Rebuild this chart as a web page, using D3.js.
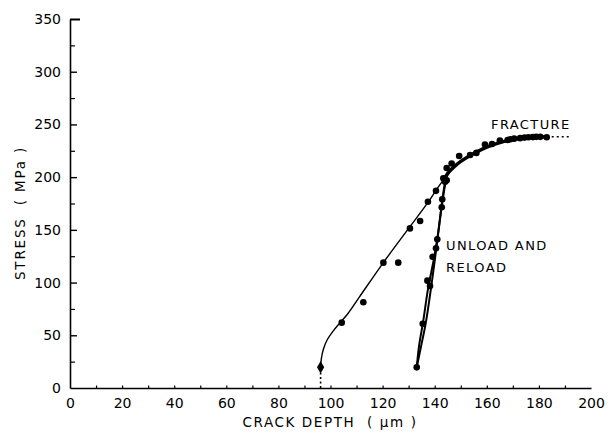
<!DOCTYPE html>
<html><head><meta charset="utf-8">
<script src="https://cdn.jsdelivr.net/npm/d3@7/dist/d3.min.js"></script>
<style>body{margin:0;background:#fff}svg{display:block}</style>
</head><body>
<svg id="chart" width="616" height="435"></svg>
<script>
// ---- data ----
const xTicks = [0,20,40,60,80,100,120,140,160,180,200];
const yTicks = [0,50,100,150,200,250,300,350];
const xMinor = d3.range(0,201,10);
const yMinor = d3.range(25,350,50);

// loading curve (thin)
const loadCurveX = [96.2, 96.5, 97.3, 98.8, 101, 103.7, 106.5, 111, 120.3, 130.5, 137.4, 141.2];
const loadCurveY = [19.6, 28, 37, 46, 54, 62, 70, 86, 119, 153, 176, 190];
// upper curve to fracture (thick)
const upperCurveX = [143.8, 145.5, 147.5, 150, 155, 160, 166, 172, 178, 183];
const upperCurveY = [199, 205, 210, 215, 222.5, 228.5, 233.5, 236.5, 238, 238.3];
// dotted extensions
const fractureExtX = [183, 192.6];
const fractureExtY = [238.3, 238.3];
const startDropX = [96.2, 96.2];
const startDropY = [0, 19.6];
// unload / reload curves
const unloadX = [144.5, 143, 141.2, 139.5, 137.5, 135.5, 134, 133.1];
const unloadY = [203, 180, 145, 120, 95, 62, 40, 19.6];
const reloadX = [133.1, 134.8, 136.6, 138.6, 140.5, 142.3, 143.8, 145];
const reloadY = [19.6, 40, 62, 95, 130, 165, 190, 205];

// measured points
const loadPtsX = [104.3, 112.6, 120.3, 126.0, 130.5, 134.4, 137.4, 140.5, 143.3, 144.6];
const loadPtsY = [62, 81.3, 118.9, 118.9, 151.4, 158.4, 176.7, 187, 199, 197];
const upperPtsX = [144.6, 146.5, 149.4, 153.6, 156, 159.3, 162, 165, 168, 169, 170.5, 172.8, 174.5, 176, 177.7, 179, 180.5, 183];
const upperPtsY = [208.7, 213, 220, 221, 223, 231, 231.5, 234.6, 235.3, 236, 236.5, 237, 237.5, 237.8, 238, 238.2, 238.2, 237.8];
const unloadPtsX = [133.1, 135.4, 137.2, 138.2, 139.2, 140.5, 141, 142.7, 142.9, 144];
const unloadPtsY = [19.6, 61, 101.8, 96.7, 124.5, 132.5, 141, 171.4, 179, 195.7];
const startPt = [96.2, 19.6];

// ---- drawing ----
const svg = d3.select("#chart");
const font = "DejaVu Sans, sans-serif";
const x = d3.scaleLinear().domain([0,200]).range([70,591]);
const y = d3.scaleLinear().domain([0,350]).range([388,19]);

const zip = (a,b) => a.map((v,i)=>[v,b[i]]);
const line = d3.line().x(d=>x(d[0])).y(d=>y(d[1])).curve(d3.curveCatmullRom.alpha(0.5));
const monoY = d3.line().x(d=>x(d[0])).y(d=>y(d[1])).curve(d3.curveMonotoneY);
const straight = d3.line().x(d=>x(d[0])).y(d=>y(d[1]));

// axes
const gy = svg.append("g").attr("transform","translate(70,0)")
  .call(d3.axisLeft(y).tickValues(yTicks).tickSizeInner(-7).tickSizeOuter(0).tickPadding(9));
gy.select(".domain").attr("stroke-width",1.6);
gy.selectAll(".tick line").attr("stroke-width",1.4);
gy.selectAll(".tick text").attr("font-family",font).attr("font-size",14).attr("fill","#000");
gy.selectAll(".tick").filter(d=>d===0).select("line").remove();
gy.selectAll(".tick").filter(d=>d===350).select("line").attr("x2",10).attr("stroke-width",2);
const gym = svg.append("g").attr("transform","translate(70,0)")
  .call(d3.axisLeft(y).tickValues(yMinor).tickSizeInner(-5).tickSizeOuter(0).tickFormat(""));
gym.select(".domain").remove();
gym.selectAll(".tick line").attr("stroke-width",1.2);

const gx = svg.append("g").attr("transform","translate(0,388)")
  .call(d3.axisBottom(x).tickValues(xTicks).tickSizeInner(-2).tickSizeOuter(0).tickPadding(10));
gx.select(".domain").attr("stroke-width",1.6);
gx.selectAll(".tick line").remove();
gx.selectAll(".tick text").attr("font-family",font).attr("font-size",14).attr("fill","#000");
const gxm = svg.append("g").attr("transform","translate(0,388)")
  .call(d3.axisBottom(x).tickValues(xMinor.filter(v=>v>0 && v<200)).tickSizeInner(-2.5).tickSizeOuter(0).tickFormat(""));
gxm.select(".domain").remove();
gxm.selectAll(".tick line").attr("stroke-width",1.2);

// axis titles
svg.append("text").attr("x",330).attr("y",427).attr("text-anchor","middle")
  .attr("font-family",font).attr("font-size",13.5).attr("letter-spacing",1.6)
  .style("white-space","pre").text("CRACK DEPTH  ( µm )");
svg.append("text").attr("transform","translate(25,213) rotate(-90)").attr("text-anchor","middle")
  .attr("font-family",font).attr("font-size",13.5).attr("letter-spacing",1.8)
  .style("white-space","pre").text("STRESS  ( MPa )");

// curves
svg.append("path").attr("d",straight(zip(startDropX,startDropY)))
  .attr("fill","none").attr("stroke","#000").attr("stroke-width",1.6).attr("stroke-dasharray","2,2.5");
svg.append("path").attr("d",straight(zip(fractureExtX,fractureExtY)))
  .attr("fill","none").attr("stroke","#000").attr("stroke-width",1.6).attr("stroke-dasharray","2,3");
svg.append("path").attr("d",monoY(zip(loadCurveX.concat(upperCurveX.slice(0,3)),loadCurveY.concat(upperCurveY.slice(0,3)))))
  .attr("fill","none").attr("stroke","#000").attr("stroke-width",1.4);
svg.append("path").attr("d",line(zip(unloadX,unloadY)))
  .attr("fill","none").attr("stroke","#000").attr("stroke-width",2);
svg.append("path").attr("d",line(zip(reloadX,reloadY)))
  .attr("fill","none").attr("stroke","#000").attr("stroke-width",2);
svg.append("path").attr("d",line(zip(upperCurveX,upperCurveY)))
  .attr("fill","none").attr("stroke","#000").attr("stroke-width",3.5);

// points
const pts = zip(loadPtsX,loadPtsY).concat(zip(upperPtsX,upperPtsY), zip(unloadPtsX,unloadPtsY));
svg.append("g").selectAll("circle").data(pts).join("circle")
  .attr("cx",d=>x(d[0])).attr("cy",d=>y(d[1])).attr("r",3.3).attr("fill","#000");
svg.append("path").attr("d", d3.symbol(d3.symbolDiamond, 45)())
  .attr("transform",`translate(${x(startPt[0])},${y(startPt[1])})`).attr("fill","#000");

// annotations
svg.append("text").attr("x",491).attr("y",129).attr("font-family",font).attr("font-size",13)
  .attr("letter-spacing",1.4).text("FRACTURE");
svg.append("text").attr("x",446).attr("y",250).attr("font-family",font).attr("font-size",13)
  .attr("letter-spacing",1.4).text("UNLOAD AND");
svg.append("text").attr("x",446).attr("y",272).attr("font-family",font).attr("font-size",13)
  .attr("letter-spacing",1.4).text("RELOAD");
</script>
</body></html>
